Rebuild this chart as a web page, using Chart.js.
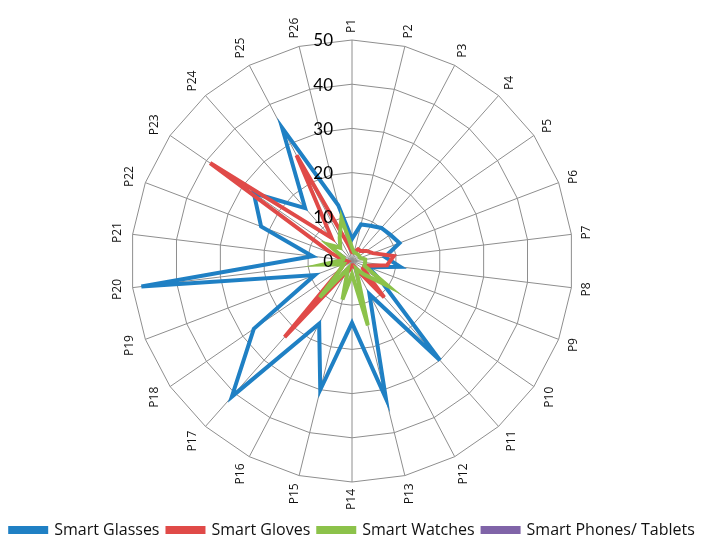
<!DOCTYPE html>
<html lang="en">
<head>
    <meta charset="UTF-8">
    <title>Smart devices radar</title>
    <style>
        body { margin: 0; background: #fff; }
        .chart-box { width: 703px; height: 544px; position: relative; }
    </style>
</head>
<body>

<div class="chart-box">
    <canvas id="radarChart"></canvas>
</div>

<script src="https://cdn.jsdelivr.net/npm/chart.js"></script>
<script>
    // categories P1..P26
    const categories = ['P1','P2','P3','P4','P5','P6','P7','P8','P9','P10','P11','P12','P13',
                        'P14','P15','P16','P17','P18','P19','P20','P21','P22','P23','P24','P25','P26'];

    // series values
    const smartGlasses = [5, 8.5, 9, 10, 10.5, 11.5, 7.5, 11, 4, 8, 30, 8.5, 32,
                          14, 30, 16, 41, 27, 9, 48, 9, 22, 27, 16, 34, 13];
    const smartGloves  = [2, 2, 3, 3, 4, 5, 9.5, 8, 3, 3, 11, 2, 1,
                          1, 2, 3, 23, 3, 2, 1, 2, 5, 39, 7, 27, 4];
    const smartWatches = [3, 2, 2, 2, 2, 2, 3, 3, 3, 10, 4, 2, 15,
                          3, 9, 2, 11, 3, 2, 6.5, 2, 2, 6.5, 4, 6, 10];
    const smartPhones  = [0, 0, 0, 0, 0, 0, 0, 0, 0, 0, 0, 0, 0,
                          0, 0, 0, 0, 0, 0, 0, 0, 0, 0, 0, 0, 0];

    // tick labels of the radial axis
    const tickValues = [0, 10, 20, 30, 40, 50];

    const colBlue = '#1f80c4';
    const colRed = '#e04a48';
    const colGreen = '#8cc24a';
    const colPurple = '#8064a8';

    // rotated category labels + tick numbers left of the P1 spoke
    const labelPlugin = {
        id: 'labelPlugin',
        afterDraw(chart) {
            const scale = chart.scales.r;
            const ctx = chart.ctx;
            const R = scale.drawingArea;
            ctx.save();
            ctx.fillStyle = '#111';
            ctx.font = '12px "Open Sans"';
            ctx.textAlign = 'center';
            ctx.textBaseline = 'middle';
            categories.forEach((lab, i) => {
                const a = scale.getIndexAngle(i);
                const tw = ctx.measureText(lab).width;
                const half = Math.abs(Math.sin(a)) * 7 + Math.abs(Math.cos(a)) * tw / 2;
                const p = scale.getPointPosition(i, R + 7 + half);
                ctx.save();
                ctx.translate(p.x, p.y);
                ctx.rotate(-Math.PI / 2);
                ctx.fillText(lab, 0, 0);
                ctx.restore();
            });

            ctx.fillStyle = '#000';
            ctx.font = '17px Lato';
            ctx.textAlign = 'right';
            tickValues.forEach(v => {
                const y = scale.yCenter - scale.getDistanceFromCenterForValue(v);
                ctx.fillText(String(v), scale.xCenter - 19, y + 1);
            });
            ctx.restore();
        }
    };

    const ctx = document.getElementById('radarChart').getContext('2d');
    const radarChart = new Chart(ctx, {
        type: 'radar',
        data: {
            labels: categories,
            datasets: [
                { label: 'Smart Glasses', data: smartGlasses, borderColor: colBlue, backgroundColor: colBlue, order: 3 },
                { label: 'Smart Gloves', data: smartGloves, borderColor: colRed, backgroundColor: colRed, order: 2 },
                { label: 'Smart Watches', data: smartWatches, borderColor: colGreen, backgroundColor: colGreen, order: 1 },
                { label: 'Smart Phones/ Tablets', data: smartPhones, borderColor: colPurple, backgroundColor: colPurple, order: 4 }
            ]
        },
        options: {
            responsive: true,
            maintainAspectRatio: false,
            animation: false,
            elements: {
                line: { borderWidth: 4, fill: false, tension: 0 },
                point: { radius: 0, hoverRadius: 0 }
            },
            layout: {
                padding: { top: 40, bottom: -4, left: 2, right: 0 }
            },
            scales: {
                r: {
                    min: 0,
                    max: 50,
                    ticks: { stepSize: 10, display: false },
                    pointLabels: { display: false },
                    grid: { color: '#8e8e8e', lineWidth: 1, circular: false },
                    angleLines: { color: '#8e8e8e', lineWidth: 1 }
                }
            },
            plugins: {
                tooltip: { enabled: false },
                legend: {
                    position: 'bottom',
                    title: { display: true, text: '', font: { size: 10 }, padding: { top: 20, bottom: 0 } },
                    labels: {
                        boxWidth: 36,
                        boxHeight: 4,
                        padding: 8,
                        color: '#111',
                        font: { family: '"Open Sans"', size: 16 },
                        sort: (a, b) => a.datasetIndex - b.datasetIndex
                    }
                }
            }
        },
        plugins: [labelPlugin]
    });
</script>

</body>
</html>
